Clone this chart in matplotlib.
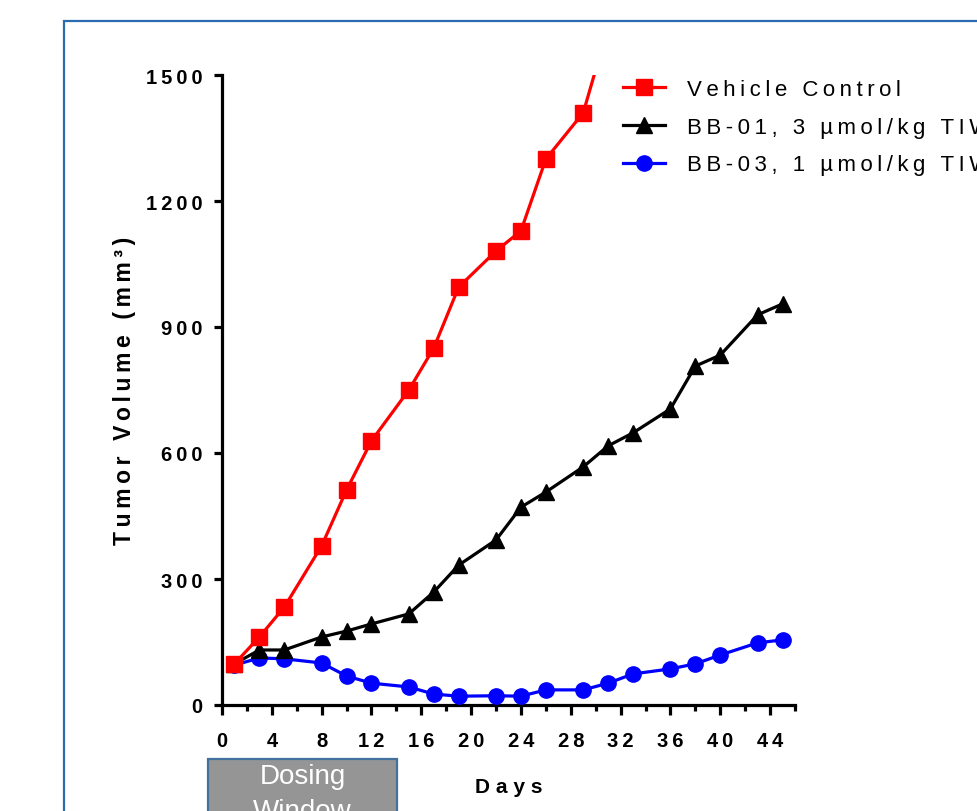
import matplotlib
matplotlib.use("Agg")
import matplotlib.pyplot as plt
from matplotlib.patches import Rectangle
from matplotlib.ticker import MultipleLocator, FixedLocator, FixedFormatter

plt.rcParams['font.family'] = ['Liberation Sans', 'DejaVu Sans']

# ---- data ----
days_vc = [1, 3, 5, 8, 10, 12, 15, 17, 19, 22, 24, 26, 29, 31]
vehicle = [98, 162, 233, 379, 512, 629, 750, 850, 995, 1081, 1129, 1300, 1410, 1615]
days = [1, 3, 5, 8, 10, 12, 15, 17, 19, 22, 24, 26, 29, 31, 33, 36, 38, 40, 43, 45]
bb01 = [98, 131, 131, 162, 176, 193, 217, 269, 333, 393, 471, 507, 567, 617, 648, 705, 807, 833, 929, 955]
bb03 = [95, 112, 110, 100, 69, 52, 43, 26, 21, 22, 21, 36, 36, 52, 74, 86, 98, 119, 148, 155]
series_labels = ["Vehicle Control", "BB-01, 3 µmol/kg TIW", "BB-03, 1 µmol/kg TIW"]
xticks = [0, 4, 8, 12, 16, 20, 24, 28, 32, 36, 40, 44]
yticks = [0, 300, 600, 900, 1200, 1500]
xlabel = "Days"
ylabel = "Tumor Volume (mm³)"
box_text = "Dosing\nWindow"

SP = "\u2009"


def track(s, sp=SP):
    return sp.join(list(s))


W, H = 977, 812
fig = plt.figure(figsize=(W / 100, H / 100), dpi=100)
ax = fig.add_axes([222 / W, 1 - 706 / H, (795 - 222) / W, (706 - 76) / H])

lw = 2.3
ms = 11
l3, = ax.plot(days, bb03, color='#0000ff', lw=lw, marker='o', ms=ms, zorder=3)
l2, = ax.plot(days, bb01, color='black', lw=lw, marker='^', ms=ms, zorder=4)
l1, = ax.plot(days_vc, vehicle, color='#ff0000', lw=lw, marker='s', ms=ms, zorder=5)

ax.set_xlim(0, 46)
ax.set_ylim(0, 1500)
for s in ['top', 'right']:
    ax.spines[s].set_visible(False)
for s in ['left', 'bottom']:
    ax.spines[s].set_linewidth(2.3)

ax.xaxis.set_major_locator(FixedLocator(xticks))
ax.xaxis.set_major_formatter(FixedFormatter([track(str(t)) for t in xticks]))
ax.xaxis.set_minor_locator(MultipleLocator(2))
ax.yaxis.set_major_locator(FixedLocator(yticks))
ax.yaxis.set_major_formatter(FixedFormatter([track(str(t)) for t in yticks]))

ax.tick_params(axis='x', which='major', length=7.5, width=2.3, direction='out', pad=11.5,
               labelsize=14.5)
ax.tick_params(axis='x', which='minor', length=4, width=2.3, direction='out')
ax.tick_params(axis='y', which='major', length=6, width=2.3, direction='out', pad=8,
               labelsize=14.5)
for lab in ax.get_xticklabels() + ax.get_yticklabels():
    lab.set_fontweight('bold')

ax.set_xlabel(track(xlabel, SP + "\u200a"), fontsize=15, fontweight='bold', labelpad=19)
ax.set_ylabel(track(ylabel), fontsize=16.5, fontweight='bold', labelpad=7)

fig.legend([l1, l2, l3], [track(s) for s in series_labels], loc='upper left',
           bbox_to_anchor=(623 / W, 1 - 80 / H), frameon=False, fontsize=16,
           handlelength=1.87, handletextpad=1.03, labelspacing=0.75, borderpad=0,
           borderaxespad=0, markerscale=1.0)

# outer frame
fig.patches.append(Rectangle((64 / W, -0.1), 2, 1.1 - 22 / H, transform=fig.transFigure,
                             fill=False, edgecolor='#2b6cb0', lw=1.6))

# dosing window box
fig.patches.append(Rectangle((208 / W, -0.05), (397 - 208) / W, 0.05 + 1 - 760 / H,
                             transform=fig.transFigure, facecolor='#959595',
                             edgecolor='#41719c', lw=1.6))
fig.text((208 + 397) / 2 / W, 1 - 764 / H, box_text, color='white', fontsize=20,
         ha='center', va='top', linespacing=1.45)

fig.savefig('out.png', dpi=100)
